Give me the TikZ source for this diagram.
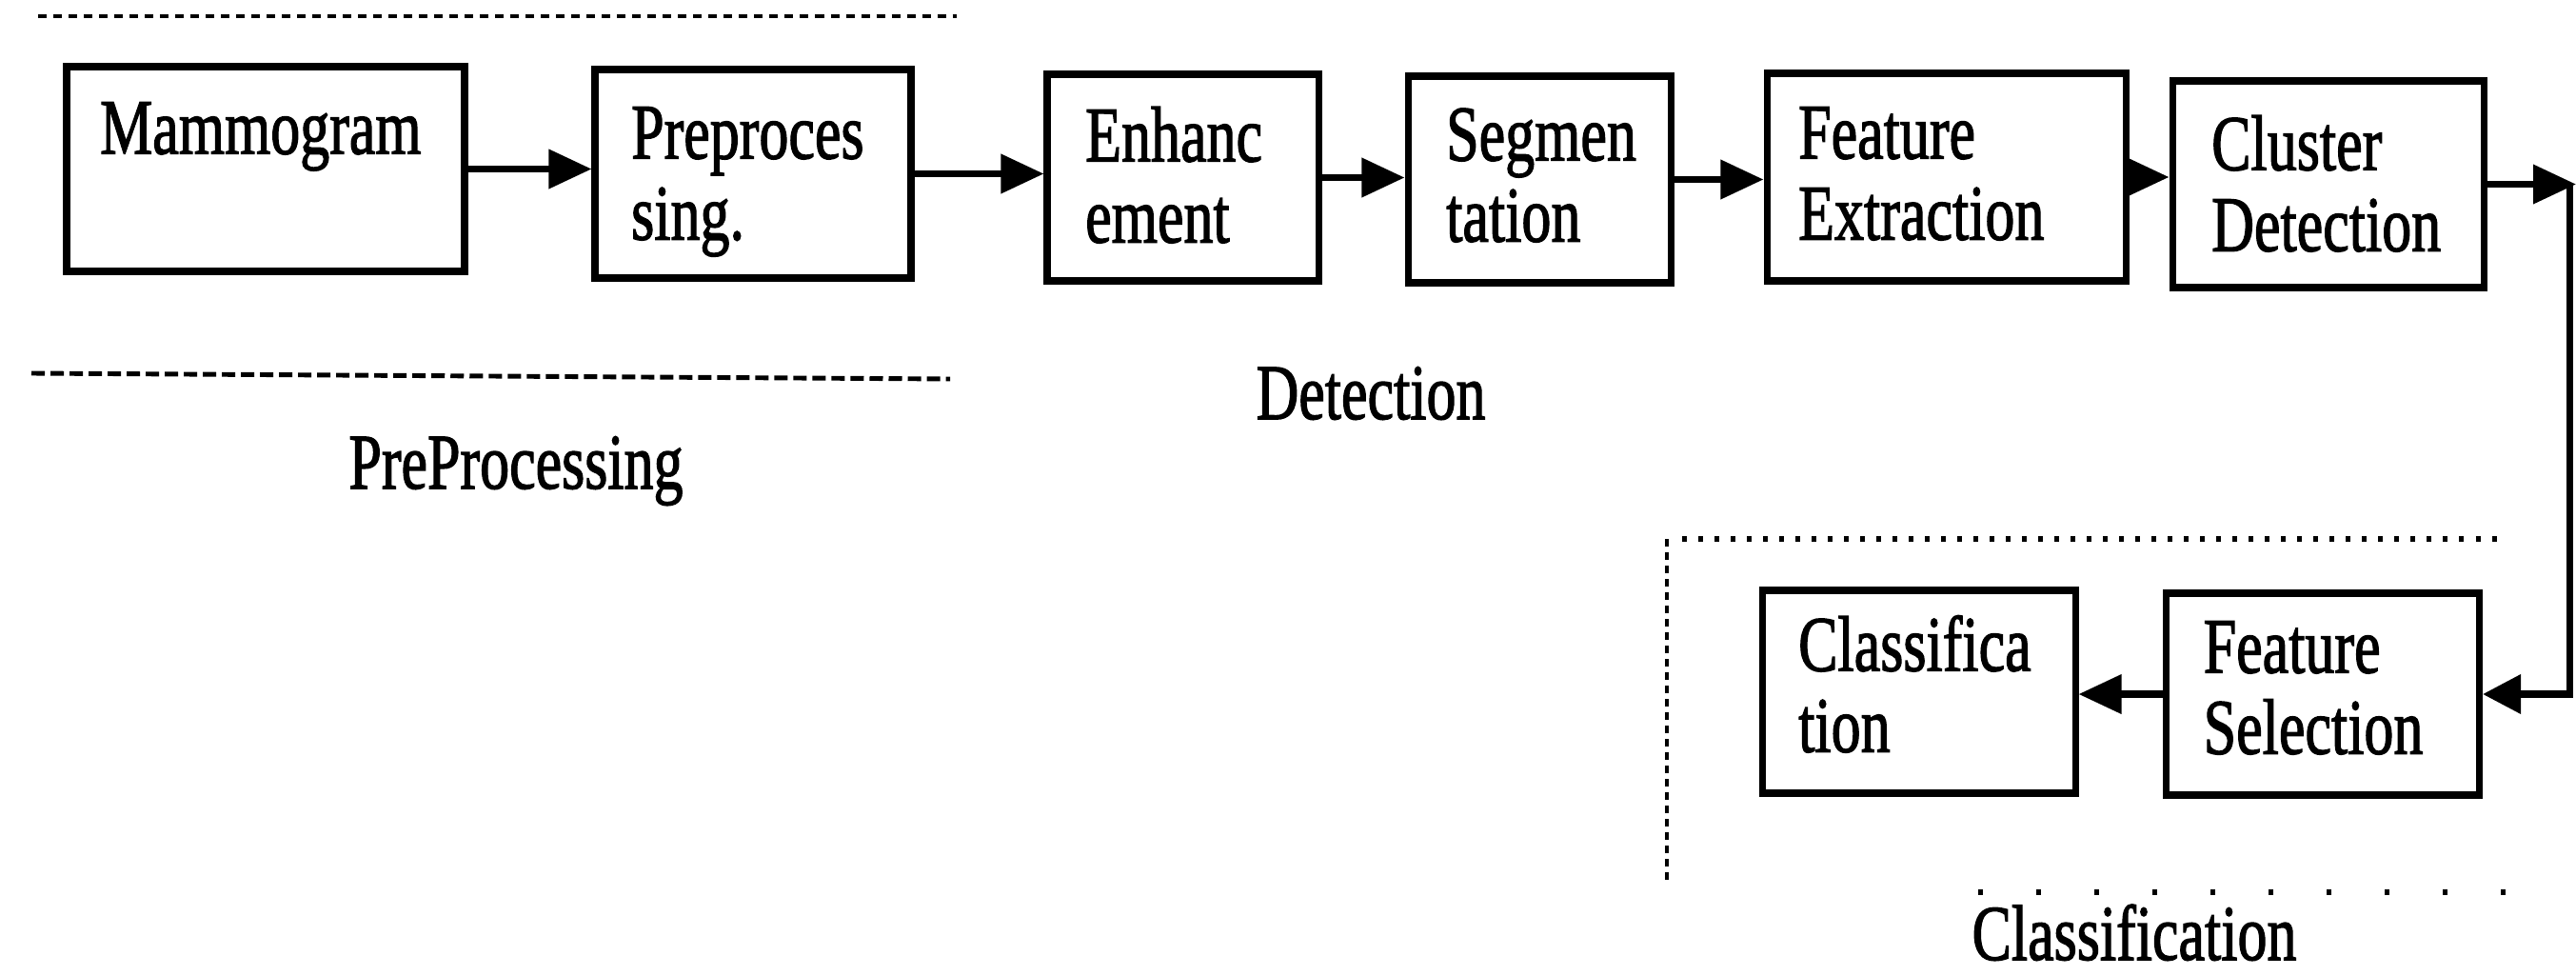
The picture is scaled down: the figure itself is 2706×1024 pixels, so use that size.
\documentclass[tikz,border=0pt]{standalone}
\usepackage{fontspec}
\setmainfont{Liberation Serif}[BoldFont=Liberation Serif, BoldFeatures={FakeBold=1.8}]
\usetikzlibrary{arrows.meta,calc}

% narrow serif text, one or more lines, baseline on the first line
\newcommand{\narrowtext}[1]{\scalebox{0.75}[1]{\begin{tabular}[t]{@{}l@{}}#1\end{tabular}}}

\begin{document}
\begin{tikzpicture}[x=0.01cm,y=-0.01cm,
  stage/.style 2 args={draw, line width=2pt, minimum width=#1*0.01cm,
    minimum height=#2*0.01cm, inner sep=0pt},
  boxtxt/.style={anchor=base west, inner sep=0pt,
    font=\fontsize{23.5}{24.2}\selectfont\bfseries},
  grouplbl/.style={anchor=base, inner sep=0pt,
    font=\fontsize{23.5}{24.2}\selectfont\bfseries},
  flow/.style={line width=2pt, -{Triangle[length=0.45cm,width=0.4cm]}},
  wire/.style={line width=2pt},
]
\useasboundingbox (0,0) rectangle (2706,1024);

% detection chain
\node[stage={418}{215}] (mam) at (279,177.5) {};
\node[stage={332}{219}] (pre) at (791,182.5) {};
\node[stage={285}{217}] (enh) at (1242.5,186.5) {};
\node[stage={276}{217}] (seg) at (1617,188.5) {};
\node[stage={377}{218}] (fex) at (2044.5,186) {};
\node[stage={327}{217}] (cld) at (2445.5,193.5) {};

% classification chain
\node[stage={329}{213}] (cls) at (2015.5,726.5) {};
\node[stage={329}{212}] (fsl) at (2440,729) {};

% box captions
\node[boxtxt] (mam-t) at ($(mam.north west)+(38,95)$) {\narrowtext{Mammogram}};
\node[boxtxt] (pre-t) at ($(pre.north west)+(41,97)$) {\narrowtext{Preproces\\sing.}};
\node[boxtxt] (enh-t) at ($(enh.north west)+(43,95)$) {\narrowtext{Enhanc\\ement}};
\node[boxtxt] (seg-t) at ($(seg.north west)+(43,92)$) {\narrowtext{Segmen\\tation}};
\node[boxtxt] (fex-t) at ($(fex.north west)+(36,93)$) {\narrowtext{Feature\\Extraction}};
\node[boxtxt] (cld-t) at ($(cld.north west)+(44,97)$) {\narrowtext{Cluster\\Detection}};
\node[boxtxt] (cls-t) at ($(cls.north west)+(41,88)$) {\narrowtext{Classifica\\tion}};
\node[boxtxt] (fsl-t) at ($(fsl.north west)+(42,87)$) {\narrowtext{Feature\\Selection}};

% group labels
\node[grouplbl] (g-pre) at (542,513) {\narrowtext{PreProcessing}};
\node[grouplbl] (g-det) at (1440,440) {\narrowtext{Detection}};
\node[grouplbl] (g-cls) at (2242,1008) {\narrowtext{Classification}};

% connectors
\draw[flow] (mam.east) -- (mam.east -| pre.west);
\draw[flow] (pre.east) -- (pre.east -| enh.west);
\draw[flow] (enh.east) -- (enh.east -| seg.west);
\draw[flow] (seg.east) -- (seg.east -| fex.west);
\draw[flow] (fex.east) -- (fex.east -| cld.west);
\coordinate (out) at (2706,193.5);
\coordinate (turn) at (2699,193.5);
\draw[flow] (cld.east) -- (out);
\draw[wire, -{Triangle[length=0.4cm,width=0.4cm]}] (turn) |- (fsl.east);
\draw[flow] (fsl.west) -- (fsl.west -| cls.east);

% group separators
\draw[line width=1.2pt, dash pattern=on 0.09cm off 0.07cm] (40,17) -- (1005,17);
\draw[line width=1.4pt, dash pattern=on 0.14cm off 0.06cm] (33,392) -- (998,398);
\draw[line width=1.6pt, dash pattern=on 0.05cm off 0.12cm] (1767,566) -- (2633,566);
\draw[line width=1.4pt, dash pattern=on 0.08cm off 0.06cm] (1751,566) -- (1751,930);
\draw[line width=1.6pt, dash pattern=on 0.05cm off 0.56cm] (2078,937) -- (2636,937);
\end{tikzpicture}
\end{document}
